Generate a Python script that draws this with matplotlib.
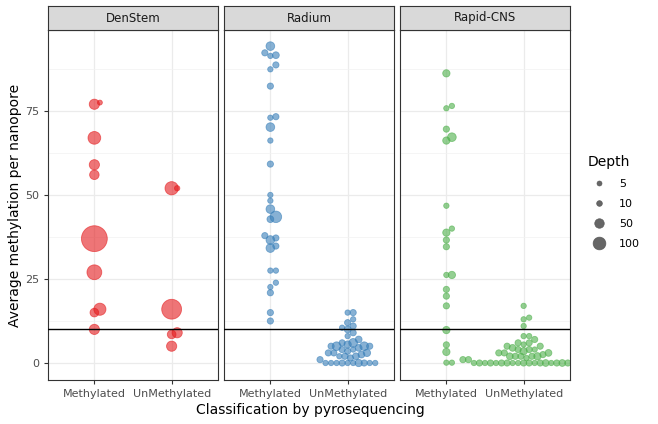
import numpy as np
import matplotlib.pyplot as plt
from matplotlib.lines import Line2D

panels = ["DenStem", "Radium", "Rapid-CNS"]
colors = ["#E41A1C", "#377EB8", "#4DAF4A"]
categories = ["Methylated", "UnMethylated"]

# (value, depth) per panel and category
den_meth_val = [77, 77.5, 67, 59, 56, 37, 27, 16, 15, 10]
den_meth_dep = [60, 5, 100, 60, 50, 450, 140, 90, 40, 60]
den_unm_val = [52, 52, 16, 9, 8.5, 5]
den_unm_dep = [110, 8, 260, 60, 40, 60]

rad_meth_val = [94.3, 92.3, 91.6, 91.4, 88.7, 87.4, 82.4, 73.3, 73.0, 70.2, 66.2, 59.2,
                50, 48.3, 45.8, 43.5, 42.8, 37.9, 37.2, 36.6, 34.8, 34.2, 27.5, 27.5,
                23.9, 22.6, 20.9, 15, 12.5]
rad_meth_dep = [40, 15, 20, 8, 15, 8, 15, 15, 8, 40, 8, 15,
                8, 8, 40, 80, 20, 15, 15, 40, 15, 40, 8, 8,
                8, 8, 15, 15, 15]
rad_unm_val = [15, 15, 13, 12, 11, 10.5, 10, 9, 8, 7, 6, 6, 5.5, 5, 5, 5, 5, 4.5, 4, 4,
               3.5, 3, 3, 3, 2.5, 2, 2, 2, 1.5, 1, 0, 0, 0, 0, 0, 0, 0, 0, 0, 0]
rad_unm_dep = [15, 8, 8, 15, 15, 8, 20, 15, 8, 20, 40, 15, 25, 40, 15, 40, 15, 20, 8, 15,
               15, 15, 25, 15, 20, 15, 20, 8, 15, 15, 8, 8, 8, 8, 15, 8, 25, 15, 8, 8]

cns_meth_val = [86.2, 76.5, 75.8, 69.6, 67.2, 66.2, 46.8, 40, 38.8, 36.6, 34.6, 26.2,
                26.2, 21.9, 19.9, 17, 9.8, 5.4, 3.3, 0.1, 0.1]
cns_meth_dep = [25, 8, 8, 15, 40, 25, 8, 8, 25, 15, 15, 25,
                8, 15, 15, 15, 25, 15, 25, 8, 8]
cns_unm_val = [17, 13.5, 13, 11, 8, 8, 7, 6, 6, 5.5, 5, 5, 4.5, 4, 4, 4, 3.5, 3, 3, 3,
               2.5, 2, 2, 2, 2, 2, 1.5, 1, 1, 1, 0.5, 0, 0, 0, 0, 0, 0, 0, 0, 0, 0,
               0, 0, 0, 0, 0, 0, 0, 0, 0]
cns_unm_dep = [8, 8, 8, 8, 8, 8, 15, 15, 15, 8, 15, 15, 20, 15, 15, 8, 25, 15, 20, 15,
               15, 15, 25, 20, 15, 15, 8, 15, 15, 15, 15, 15, 15, 8, 20, 15, 15, 8, 8, 15,
               20, 15, 15, 8, 8, 8, 15, 15, 15, 8]

data = {
    "DenStem": [(den_meth_val, den_meth_dep), (den_unm_val, den_unm_dep)],
    "Radium": [(rad_meth_val, rad_meth_dep), (rad_unm_val, rad_unm_dep)],
    "Rapid-CNS": [(cns_meth_val, cns_meth_dep), (cns_unm_val, cns_unm_dep)],
}


def size(d):
    return 9 + 0.75 * np.asarray(d, dtype=float)


def swarm(vals, xpx=77.0, ypx=3.36, diam=5.5):
    # simple beeswarm in pixel space, returns x offsets in data units
    vals = np.asarray(vals, dtype=float)
    order = np.argsort(vals)
    placed = []
    offs = np.zeros(len(vals))
    for i in order:
        y = vals[i] * ypx
        cands = [0.0]
        for k in range(1, 60):
            cands += [k * diam / 2, -k * diam / 2]
        for c in cands:
            if all((c - px) ** 2 + (y - py) ** 2 >= diam ** 2 * 0.9 for px, py in placed):
                break
        placed.append((c, y))
        offs[i] = c / xpx
    return offs


fig = plt.figure(figsize=(6.58, 4.24), dpi=100)
W, H = 658, 424
for j, name in enumerate(panels):
    left = 48 + j * 176
    ax = fig.add_axes([left / W, 1 - 380 / H, 170 / W, 350 / H])
    sax = fig.add_axes([left / W, 1 - 30 / H, 170 / W, 24 / H])
    sax.set_facecolor("#d9d9d9")
    sax.set_xticks([]); sax.set_yticks([])
    for s in sax.spines.values():
        s.set_color("#333333")
    sax.text(0.5, 0.5, name, ha="center", va="center", fontsize=8.5, color="#1a1a1a",
             transform=sax.transAxes)
    for k, (vals, deps) in enumerate(data[name]):
        x = k + 1 + swarm(vals)
        ax.scatter(x, vals, s=size(deps), color=colors[j], alpha=0.6,
                   edgecolors=colors[j], linewidths=0.6, zorder=3)
    ax.axhline(10, color="black", lw=1, zorder=4)
    ax.set_xlim(0.4, 2.6)
    ax.set_ylim(-5.06, 99.1)
    ax.set_xticks([1, 2])
    ax.set_xticklabels(categories, fontsize=8, color="#4d4d4d")
    ax.set_yticks([0, 25, 50, 75])
    ax.set_yticks([12.5, 37.5, 62.5, 87.5], minor=True)
    ax.grid(True, which="major", color="#ebebeb", lw=0.9, zorder=0)
    ax.grid(True, which="minor", axis="y", color="#f2f2f2", lw=0.5, zorder=0)
    ax.tick_params(which="minor", length=0)
    ax.tick_params(length=3, color="#333333", labelsize=8, labelcolor="#4d4d4d")
    ax.set_axisbelow(True)
    for s in ax.spines.values():
        s.set_color("#333333")
    if j > 0:
        ax.set_yticklabels([])
        ax.tick_params(axis="y", length=0)

fig.text(310 / W, 1 - 410 / H, "Classification by pyrosequencing", ha="center", va="center", fontsize=10)
fig.text(15 / W, 1 - 205 / H, "Average methylation per nanopore", ha="center", va="center",
         rotation=90, fontsize=10)

legend_depths = [5, 10, 50, 100]
handles = [Line2D([], [], marker="o", linestyle="", color="#555555", alpha=0.9,
                  markersize=np.sqrt(size(d)), markeredgewidth=0.5) for d in legend_depths]
fig.legend(handles, [str(d) for d in legend_depths], title="Depth", loc="upper left",
           bbox_to_anchor=(578 / W, 1 - 145 / H), frameon=False, fontsize=8,
           title_fontsize=10, labelspacing=0.9, handletextpad=0.8, alignment="left")

fig.savefig("out.png", dpi=100)
